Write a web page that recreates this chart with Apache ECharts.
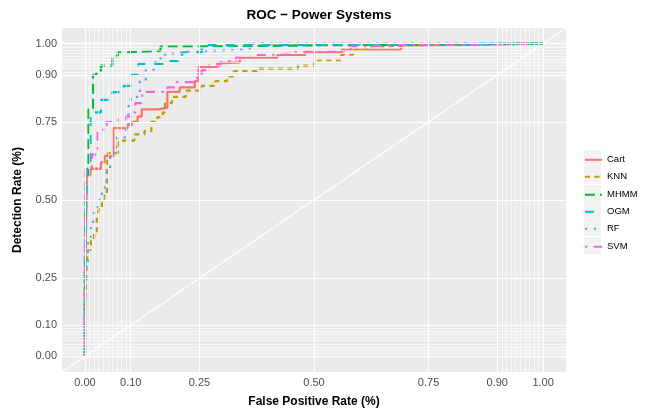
<!DOCTYPE html>
<html>
<head>
<meta charset="utf-8">
<script src="https://cdn.jsdelivr.net/npm/echarts@6/dist/echarts.min.js"></script>
<style>
  html, body { margin: 0; padding: 0; background: #fff; }
  #chart { width: 646px; height: 413px; }
</style>
</head>
<body>
<div id="chart"></div>
<script>
// 模型名称（图例顺序）
const models = ['Cart', 'KNN', 'MHMM', 'OGM', 'RF', 'SVM'];
const colors = ['#F8766D', '#B79F00', '#00BA38', '#00BFC4', '#619CFF', '#F564E3'];

// 坐标轴刻度
const majorBreaks = [0, 0.1, 0.25, 0.5, 0.75, 0.9, 1];
const minorBreaks = [0, 0.01, 0.02, 0.03, 0.04, 0.05, 0.06, 0.07, 0.08, 0.09, 0.1,
  0.9, 0.91, 0.92, 0.93, 0.94, 0.95, 0.96, 0.97, 0.98, 0.99, 1];

// 对角线 (abline)
const diagonal = [[-0.05, -0.05], [1.05, 1.05]];

// ROC 曲线: [FPR, TPR]
const cart = [[0,0],[0,0.2],[0.004,0.2],[0.004,0.58],[0.012,0.58],[0.012,0.6],[0.035,0.6],[0.035,0.62],
  [0.043,0.62],[0.043,0.64],[0.062,0.64],[0.062,0.73],[0.093,0.73],[0.093,0.74],[0.103,0.74],[0.103,0.75],
  [0.115,0.75],[0.115,0.767],[0.124,0.767],[0.124,0.79],[0.16,0.79],[0.16,0.795],[0.18,0.795],[0.18,0.846],
  [0.207,0.846],[0.207,0.86],[0.24,0.86],[0.24,0.88],[0.248,0.88],[0.248,0.925],[0.289,0.925],[0.289,0.937],
  [0.295,0.937],[0.295,0.94],[0.338,0.94],[0.338,0.955],[0.42,0.955],[0.42,0.963],[0.48,0.963],[0.48,0.972],
  [0.56,0.972],[0.56,0.98],[0.69,0.98],[0.69,0.995],[0.75,0.995],[0.75,1],[1,1]];
const knn = [[0,0],[0,0.15],[0.004,0.15],[0.004,0.3],[0.007,0.3],[0.007,0.34],[0.013,0.34],[0.013,0.37],
  [0.02,0.37],[0.02,0.4],[0.026,0.4],[0.026,0.44],[0.03,0.44],[0.03,0.47],[0.037,0.47],[0.037,0.49],
  [0.042,0.49],[0.042,0.52],[0.048,0.52],[0.048,0.6],[0.05,0.6],[0.05,0.65],[0.072,0.65],[0.072,0.69],
  [0.108,0.69],[0.108,0.71],[0.13,0.71],[0.13,0.72],[0.145,0.72],[0.145,0.75],[0.158,0.75],[0.158,0.765],
  [0.17,0.765],[0.17,0.78],[0.175,0.78],[0.175,0.81],[0.19,0.81],[0.19,0.83],[0.22,0.83],[0.22,0.85],
  [0.255,0.85],[0.255,0.865],[0.285,0.865],[0.285,0.88],[0.31,0.88],[0.31,0.895],[0.325,0.895],[0.325,0.912],
  [0.375,0.912],[0.375,0.92],[0.465,0.92],[0.465,0.93],[0.5,0.93],[0.5,0.947],[0.56,0.947],[0.56,0.965],
  [0.585,0.965],[0.585,0.98],[0.625,0.98],[0.625,0.99],[0.655,0.99],[0.655,0.995],[0.7,0.995],[0.7,1],[1,1]];
const mhmm = [[0,0],[0,0.3],[0.002,0.3],[0.002,0.58],[0.008,0.58],[0.008,0.79],[0.018,0.79],[0.018,0.9],
  [0.025,0.9],[0.025,0.91],[0.035,0.91],[0.035,0.93],[0.06,0.93],[0.06,0.96],[0.072,0.96],[0.072,0.972],
  [0.09,0.972],[0.09,0.977],[0.165,0.977],[0.165,0.99],[0.22,0.99],[0.22,0.995],[0.52,0.995],[0.52,1],[1,1]];
const ogm = [[0,0],[0,0.25],[0.004,0.25],[0.004,0.6],[0.012,0.6],[0.012,0.78],[0.035,0.78],[0.035,0.82],
  [0.06,0.82],[0.06,0.845],[0.085,0.845],[0.085,0.865],[0.1,0.865],[0.1,0.9],[0.117,0.9],[0.117,0.935],
  [0.17,0.935],[0.17,0.944],[0.212,0.944],[0.212,0.972],[0.255,0.972],[0.255,0.995],[0.34,0.995],[0.34,1],[1,1]];
const rf = [[0,0],[0,0.1],[0.002,0.1],[0.002,0.3],[0.007,0.3],[0.007,0.37],[0.012,0.37],[0.012,0.41],
  [0.018,0.41],[0.018,0.45],[0.022,0.45],[0.022,0.47],[0.028,0.47],[0.028,0.5],[0.034,0.5],[0.034,0.52],
  [0.042,0.52],[0.042,0.54],[0.048,0.54],[0.048,0.6],[0.055,0.6],[0.055,0.65],[0.07,0.65],[0.07,0.7],
  [0.09,0.7],[0.09,0.73],[0.095,0.73],[0.095,0.8],[0.1,0.8],[0.1,0.83],[0.12,0.83],[0.12,0.88],
  [0.133,0.88],[0.133,0.915],[0.15,0.915],[0.15,0.94],[0.165,0.94],[0.165,0.955],[0.175,0.955],[0.175,0.968],
  [0.21,0.968],[0.21,0.975],[0.23,0.975],[0.23,0.98],[0.34,0.98],[0.34,0.985],[0.36,0.985],[0.36,1],[1,1]];
const svm = [[0,0],[0,0.3],[0.002,0.3],[0.002,0.6],[0.015,0.6],[0.015,0.645],[0.028,0.645],[0.028,0.72],
  [0.04,0.72],[0.04,0.73],[0.048,0.73],[0.048,0.75],[0.072,0.75],[0.072,0.757],[0.09,0.757],[0.09,0.767],
  [0.1,0.767],[0.1,0.78],[0.11,0.78],[0.11,0.81],[0.125,0.81],[0.125,0.846],[0.18,0.846],[0.18,0.86],
  [0.2,0.86],[0.2,0.877],[0.24,0.877],[0.24,0.89],[0.255,0.89],[0.255,0.915],[0.27,0.915],[0.27,0.93],
  [0.295,0.93],[0.295,0.94],[0.315,0.94],[0.315,0.95],[0.33,0.95],[0.33,0.957],[0.36,0.957],[0.36,0.963],
  [0.375,0.963],[0.375,0.968],[0.46,0.968],[0.46,0.975],[0.56,0.975],[0.56,0.98],[0.58,0.98],[0.58,0.99],
  [0.6,0.99],[0.6,0.995],[0.69,0.995],[0.69,1],[1,1]];

const curves = [cart, knn, mhmm, ogm, rf, svm];
// ggplot 线型: solid, 22, 42, 44, 13, 1343
const dashes = ['solid', [5, 4.5], [10, 5], [9, 9], [2.3, 6.5], [2.3, 6.5, 9, 6.5]];

const FONT = 'Liberation Sans, Arial, sans-serif';
const chart = echarts.init(document.getElementById('chart'));

const gridLines = [];
minorBreaks.forEach(v => {
  gridLines.push({ xAxis: v, lineStyle: { width: 0.6 } });
  gridLines.push({ yAxis: v, lineStyle: { width: 0.6 } });
});
majorBreaks.forEach(v => {
  gridLines.push({ xAxis: v, lineStyle: { width: 1.1 } });
  gridLines.push({ yAxis: v, lineStyle: { width: 1.1 } });
});

const series = [
  {
    name: 'grid',
    type: 'line',
    data: [],
    z: 0,
    silent: true,
    markLine: {
      silent: true,
      symbol: 'none',
      label: { show: false },
      animation: false,
      lineStyle: { color: '#fff', type: 'solid' },
      data: gridLines
    }
  },
  {
    name: 'diag',
    type: 'line',
    data: diagonal,
    z: 1,
    symbol: 'none',
    silent: true,
    lineStyle: { color: '#fff', width: 1.1 }
  }
];
models.forEach((m, i) => {
  series.push({
    name: m,
    type: 'line',
    data: curves[i],
    z: 2,
    symbol: 'none',
    color: colors[i],
    lineStyle: { color: colors[i], width: 2.3, type: dashes[i] }
  });
});

// 图例：每个模型一个，位置固定，模拟 ggplot 的灰色图例键
const KEY_TOP = 150, KEY_STEP = 17.3;
const legends = models.map((m, i) => ({
  data: [m],
  orient: 'vertical',
  left: 584,
  top: Math.round(KEY_TOP + i * KEY_STEP) + 3,
  itemWidth: 17, itemHeight: 17,
  itemGap: 4,
  padding: 0,
  itemStyle: { opacity: 0 },
  textStyle: { fontFamily: FONT, fontSize: 9.5, color: '#000' },
  selectedMode: false
}));

const axisCommon = {
  type: 'value',
  min: -0.05,
  max: 1.05,
  nameLocation: 'middle',
  nameTextStyle: { fontFamily: FONT, fontWeight: 'bold', fontSize: 12, color: '#000' },
  axisLine: { show: false },
  splitLine: { show: false },
  axisTick: { show: true, length: 3, lineStyle: { color: '#333', width: 1 }, customValues: majorBreaks },
  axisLabel: {
    fontFamily: FONT, fontSize: 11, color: '#4D4D4D', margin: 5,
    customValues: majorBreaks,
    formatter: v => v.toFixed(2)
  }
};

chart.setOption({
  animation: false,
  backgroundColor: '#fff',
  title: {
    text: 'ROC \u2212 Power Systems',
    left: 314, top: 3, textAlign: 'center',
    textStyle: { fontFamily: FONT, fontWeight: 'bold', fontSize: 13.5, color: '#000' }
  },
  grid: {
    left: 62, right: 80, top: 28, bottom: 38,
    show: true, backgroundColor: '#EBEBEB', borderWidth: 0
  },
  legend: legends,
  graphic: models.map((m, i) => ({
    type: 'rect', z: -1, silent: true,
    shape: { x: 584, y: Math.round(KEY_TOP + i * KEY_STEP), width: 17, height: 17 },
    style: { fill: '#F2F2F2' }
  })),
  xAxis: Object.assign({}, axisCommon, { name: 'False Positive Rate (%)', nameGap: 24 }),
  yAxis: Object.assign({}, axisCommon, { name: 'Detection Rate (%)', nameGap: 38, nameRotate: 90 }),
  series: series
});
</script>
</body>
</html>
